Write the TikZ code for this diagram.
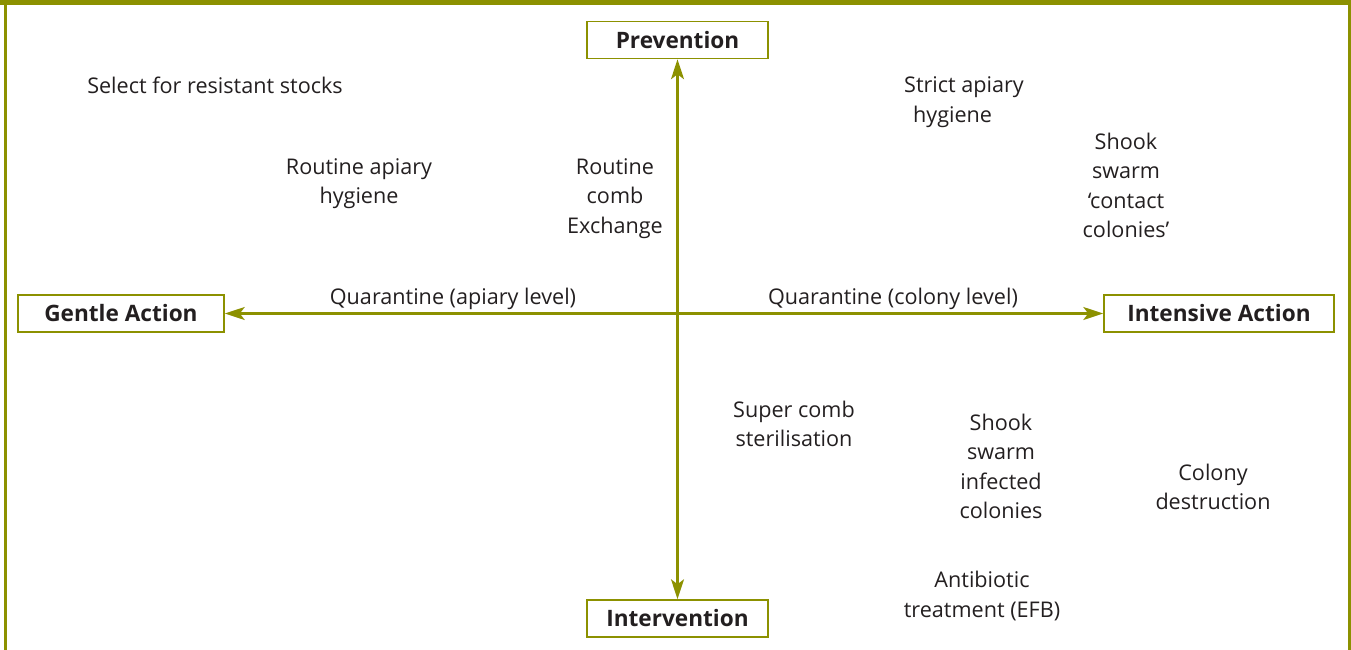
\documentclass[tikz,border=0pt]{standalone}
\usepackage{fontspec}
\setmainfont{Open Sans}
\usetikzlibrary{arrows.meta}
\definecolor{olive}{RGB}{140,145,0}
\definecolor{txt}{RGB}{35,31,32}
\begin{document}
\begin{tikzpicture}[x=1pt,y=-1pt,
  lbl/.style={font=\fontsize{21.6}{29.5}\selectfont, text=txt, align=center, inner sep=0pt, yshift=-2.5pt},
  axisbox/.style={draw=olive, line width=1.5pt, fill=white, text=txt, font=\fontsize{22.6}{25}\selectfont\bfseries, minimum height=37pt, inner sep=0pt},
  axisline/.style={draw=olive, line width=2.2pt, {Stealth[length=20pt,width=13pt,inset=5pt]}-{Stealth[length=20pt,width=13pt,inset=5pt]}}]
\useasboundingbox (0,0) rectangle (1351,650);
% frame
\fill[olive] (0,0) rectangle (1351,5);
\fill[olive] (4,0) rectangle (6.5,650);
\fill[olive] (1347.5,0) rectangle (1350.5,650);
% axis boxes
\node[axisbox, minimum width=181pt] (prev) at (677.5,40) {Prevention};
\node[axisbox, minimum width=181pt] (interv) at (677.5,618.5) {Intervention};
\node[axisbox, minimum width=206pt] (gentle) at (121,313.5) {Gentle Action};
\node[axisbox, minimum width=230pt] (intens) at (1219,313.5) {Intensive Action};
% axes
\draw[axisline] (prev.south) -- (interv.north);
\draw[axisline] (gentle.east) -- (intens.west);
% labels
\node[lbl] (sel) at (215,83) {Select for resistant stocks};
\node[lbl] (rah) at (359,181) {Routine apiary\\hygiene};
\node[lbl] (rce) at (615,196) {Routine\\comb\\Exchange};
\node[lbl, align=left] (sah) at (964,99.5) {Strict apiary\\\hspace*{9pt}hygiene};
\node[lbl] (ssc) at (1126,183) {Shook\\swarm\\‘contact\\colonies’};
\node[lbl] (qal) at (453,296) {Quarantine (apiary level)};
\node[lbl] (qcl) at (893,296) {Quarantine (colony level)};
\node[lbl] (scs) at (794,421.5) {Super comb\\sterilisation};
\node[lbl] (ssi) at (1001,464) {Shook\\swarm\\infected\\colonies};
\node[lbl] (cd) at (1213,484.5) {Colony\\destruction};
\node[lbl] (ab) at (982,593.5) {Antibiotic\\treatment (EFB)};
\end{tikzpicture}
\end{document}
